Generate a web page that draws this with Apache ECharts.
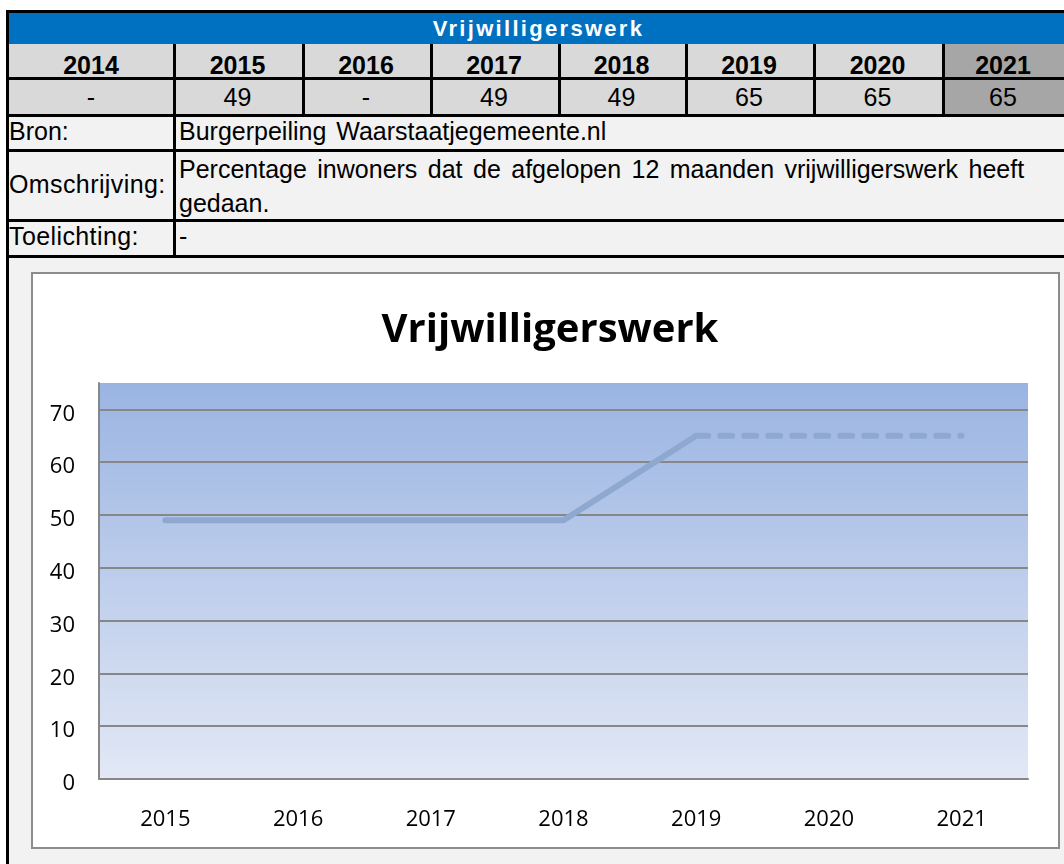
<!DOCTYPE html>
<html>
<head>
<meta charset="utf-8">
<script src="https://cdn.jsdelivr.net/npm/echarts@6/dist/echarts.min.js"></script>
<style>
  html, body { margin: 0; padding: 0; background: #ffffff; }
  #page { position: relative; width: 1064px; height: 864px; overflow: hidden; font-family: "Liberation Sans", Arial, sans-serif; }
  .abs { position: absolute; box-sizing: border-box; white-space: nowrap; }
  #chart { position: absolute; left: 0; top: 0; width: 1064px; height: 864px; }
</style>
</head>
<body>
<div id="page"></div>
<script>
// ---- data ----
const tableTitle = 'Vrijwilligerswerk';
const tableYears = ['2014', '2015', '2016', '2017', '2018', '2019', '2020', '2021'];
const tableValues = ['-', '49', '-', '49', '49', '65', '65', '65'];
const infoLabels = ['Bron:', 'Omschrijving:', 'Toelichting:'];
const infoTexts = [
  ['Burgerpeiling Waarstaatjegemeente.nl'],
  ['Percentage inwoners dat de afgelopen 12 maanden vrijwilligerswerk heeft', 'gedaan.'],
  ['-']
];
const chartTitle = 'Vrijwilligerswerk';
const chartYears = ['2015', '2016', '2017', '2018', '2019', '2020', '2021'];
const measuredValues = [49, null, 49, 49, 65, null, null];
const projectedValues = [null, null, null, null, 65, 65, 65];
const yMin = 0, yMax = 75, yInterval = 10;

// ---- table layout ----
const page = document.getElementById('page');
function box(x, y, w, h, css, text) {
  const d = document.createElement('div');
  d.className = 'abs';
  d.style.left = x + 'px'; d.style.top = y + 'px';
  d.style.width = w + 'px'; d.style.height = h + 'px';
  Object.assign(d.style, css || {});
  if (text !== undefined) d.textContent = text;
  page.appendChild(d);
  return d;
}
const colEdges = [9, 173, 302, 430, 558, 685, 813, 942, 1064];
const R = { title: [13, 44], head: [44, 77], val: [80, 114], rows: [[117, 149], [152, 219], [222, 255]] };

// backgrounds
box(9, 258, 1055, 606, { background: '#f2f2f2' });
box(9, R.title[0], 1055, R.title[1] - R.title[0], { background: '#0070c0' });
for (let i = 0; i < tableYears.length; i++) {
  const x0 = colEdges[i], x1 = colEdges[i + 1];
  const bg = i === tableYears.length - 1 ? '#a6a6a6' : '#d9d9d9';
  box(x0, R.head[0], x1 - x0, R.head[1] - R.head[0], { background: bg });
  box(x0, R.val[0], x1 - x0, R.val[1] - R.val[0], { background: bg });
}
R.rows.forEach(r => box(9, r[0], 1055, r[1] - r[0], { background: '#f2f2f2' }));

// texts
box(11, R.title[0], 1055, R.title[1] - R.title[0], {
  color: '#ffffff', fontWeight: 'bold', fontSize: '22px', letterSpacing: '2.3px',
  textAlign: 'center', lineHeight: (R.title[1] - R.title[0]) + 'px'
}, tableTitle);
for (let i = 0; i < tableYears.length; i++) {
  const x0 = colEdges[i], x1 = colEdges[i + 1];
  box(x0, R.head[0] + 5, x1 - x0, R.head[1] - R.head[0], {
    color: '#000', fontWeight: 'bold', fontSize: '25px', textAlign: 'center',
    lineHeight: (R.head[1] - R.head[0]) + 'px'
  }, tableYears[i]);
  box(x0, R.val[0], x1 - x0, R.val[1] - R.val[0], {
    color: '#000', fontSize: '25px', textAlign: 'center',
    lineHeight: (R.val[1] - R.val[0]) + 'px'
  }, tableValues[i]);
}
R.rows.forEach((r, i) => {
  const h = r[1] - r[0];
  box(9, r[0] - 2 + (i === 1 ? 1 : 0), 163, h, {
    color: '#000', fontSize: '25px', lineHeight: h + 'px', letterSpacing: i === 0 ? '0px' : '0.4px'
  }, infoLabels[i]);
  const lines = infoTexts[i];
  if (lines.length === 1) {
    box(179, r[0] - 2, 880, h, { color: '#000', fontSize: '25px', lineHeight: h + 'px', wordSpacing: '3px' }, lines[0]);
  } else {
    const d = box(179, r[0], 880, h, { color: '#000', fontSize: '25px', lineHeight: '34px', whiteSpace: 'normal', wordSpacing: '3.5px' });
    d.innerHTML = lines.join('<br>');
  }
});

// grid lines of the table
const K = '#000000';
box(6, 10, 1058, 3, { background: K });
box(6, 10, 3, 854, { background: K });
[77, 114, 149, 219, 255].forEach(y => box(9, y, 1055, 3, { background: K }));
for (let i = 1; i < colEdges.length - 1; i++) {
  box(colEdges[i], R.head[0], 3, R.val[1] - R.head[0] + 3, { background: K });
}
box(colEdges[1], R.rows[0][0], 3, R.rows[2][1] - R.rows[0][0], { background: K });

// chart box
box(31, 272, 1029, 577, { background: '#ffffff', border: '2px solid #8c8c8c' });

// ---- chart ----
const chartDiv = document.createElement('div');
chartDiv.id = 'chart';
page.appendChild(chartDiv);
const chart = echarts.init(chartDiv, null, { renderer: 'canvas', width: 1064, height: 864 });

const nLines = Math.floor((yMax - yMin) / yInterval) + 1;
const splitColors = [];
for (let i = 0; i < nLines; i++) splitColors.push('#878787');
splitColors.push('rgba(0,0,0,0)');

const lineColor = '#8ea8cf';
chart.setOption({
  backgroundColor: 'transparent',
  animation: false,
  textStyle: { fontFamily: 'Open Sans' },
  title: {
    text: chartTitle,
    left: 545, top: 306, textAlign: 'center',
    textStyle: { fontFamily: 'Open Sans', fontWeight: 'bold', fontSize: 40, color: '#000' }
  },
  grid: {
    left: 99, top: 383, width: 929, height: 396,
    show: true, borderWidth: 0,
    backgroundColor: new echarts.graphic.LinearGradient(0, 0, 0, 1, [
      { offset: 0, color: '#9ab4e2' },
      { offset: 1, color: '#e2e8f5' }
    ])
  },
  xAxis: {
    type: 'category', data: chartYears, boundaryGap: true,
    axisTick: { show: false },
    axisLine: { show: true, lineStyle: { color: '#878787', width: 2 } },
    axisLabel: { fontFamily: 'Open Sans', fontSize: 22, color: '#000', margin: 30 },
    splitLine: { show: false }
  },
  yAxis: {
    type: 'value', min: yMin, max: yMax, interval: yInterval,
    axisTick: { show: false },
    axisLine: { show: true, lineStyle: { color: '#878787', width: 2 } },
    axisLabel: {
      fontFamily: 'Open Sans', fontSize: 22, color: '#000', margin: 24, showMaxLabel: false,
      formatter: v => (v % yInterval === 0 ? '{t|' + v + '}' : ''),
      rich: { t: { fontFamily: 'Open Sans', fontSize: 22, color: '#000', padding: [10, 0, 0, 0] } }
    },
    splitLine: { show: true, lineStyle: { color: splitColors, width: 2 } }
  },
  series: [
    {
      type: 'line', data: measuredValues, connectNulls: true,
      symbol: 'none', showSymbol: false,
      lineStyle: { color: lineColor, width: 6, cap: 'round', join: 'round' },
      z: 3
    },
    {
      type: 'line', data: projectedValues, connectNulls: false,
      symbol: 'none', showSymbol: false,
      lineStyle: { color: lineColor, width: 6, type: [12, 12], cap: 'round', join: 'round' },
      z: 3
    }
  ]
});
</script>
</body>
</html>
